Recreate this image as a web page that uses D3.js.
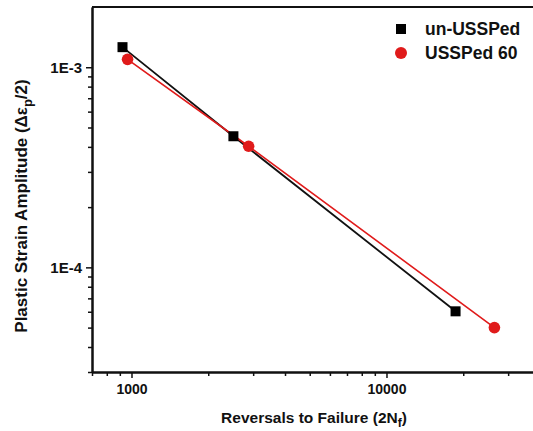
<!DOCTYPE html>
<html>
<head>
<meta charset="utf-8">
<script src="https://cdn.jsdelivr.net/npm/d3@7"></script>
<style>
  body { margin: 0; background: #fff; }
  text { font-family: "Liberation Sans", Arial, sans-serif; font-weight: bold; }
</style>
</head>
<body>
<div id="viz"></div>
<script>
// data
const seriesNames = ["un-USSPed", "USSPed 60"];
const unReversals = [922, 2510, 18660];
const unAmplitude = [1.26e-3, 4.52e-4, 6.03e-5];
const ussReversals = [965, 2880, 26500];
const ussAmplitude = [1.095e-3, 4.03e-4, 5.0e-5];

const xMajor = [1000, 10000];
const xMinor = [700, 800, 900, 2000, 3000, 4000, 5000, 6000, 7000, 8000, 9000, 20000, 30000];
const yMajor = [1e-4, 1e-3];
const yMinor = [3e-5, 4e-5, 5e-5, 6e-5, 7e-5, 8e-5, 9e-5, 2e-4, 3e-4, 4e-4, 5e-4, 6e-4, 7e-4, 8e-4, 9e-4];
const yLabels = {"0.0001": "1E-4", "0.001": "1E-3"};

const width = 533, height = 431;
const margin = {left: 92, top: 7, right: -7, bottom: 59};

const svg = d3.select("#viz").append("svg")
    .attr("width", width)
    .attr("height", height);

const xScale = d3.scaleLog()
    .domain([700, 40000])
    .range([margin.left, width - margin.right]);

const yScale = d3.scaleLog()
    .domain([3e-5, 2e-3])
    .range([height - margin.bottom, margin.top]);

const x0 = xScale.range()[0], x1 = xScale.range()[1];
const y0 = yScale.range()[0], y1 = yScale.range()[1];

// frame: top and right edges
svg.append("path")
    .attr("d", `M${x0},${y1}H${x1}V${y0}`)
    .attr("fill", "none")
    .attr("stroke", "#111")
    .attr("stroke-width", 2);

// x axis
const gx = svg.append("g").attr("transform", `translate(0,${y0})`);
gx.call(d3.axisBottom(xScale).tickValues(xMinor).tickFormat("").tickSize(4).tickSizeOuter(0));
gx.append("g").call(d3.axisBottom(xScale).tickValues(xMajor).tickFormat(d3.format("d")).tickSize(6).tickSizeOuter(0).tickPadding(6));
gx.selectAll("path.domain").attr("stroke", "#111").attr("stroke-width", 2);
gx.selectAll("line").attr("stroke", "#111").attr("stroke-width", 1.5);
gx.selectAll("text").style("font-size", "14px").style("fill", "#111");

// y axis
const gy = svg.append("g").attr("transform", `translate(${x0},0)`);
gy.call(d3.axisLeft(yScale).tickValues(yMinor).tickFormat("").tickSize(4).tickSizeOuter(0));
gy.append("g").call(d3.axisLeft(yScale).tickValues(yMajor).tickFormat(d => yLabels[String(d)]).tickSize(6).tickSizeOuter(0).tickPadding(4));
gy.selectAll("path.domain").attr("stroke", "#111").attr("stroke-width", 2);
gy.selectAll("line").attr("stroke", "#111").attr("stroke-width", 1.5);
gy.selectAll("text").style("font-size", "15px").style("fill", "#111").attr("dy", "0.35em");

// series
const unData = unReversals.map((r, i) => ({x: r, y: unAmplitude[i]}));
const ussData = ussReversals.map((r, i) => ({x: r, y: ussAmplitude[i]}));

const line = d3.line().x(d => xScale(d.x)).y(d => yScale(d.y));

svg.append("path")
    .datum(unData)
    .attr("d", line)
    .attr("fill", "none")
    .attr("stroke", "#111")
    .attr("stroke-width", 1.8);

svg.append("path")
    .datum(ussData)
    .attr("d", line)
    .attr("fill", "none")
    .attr("stroke", "#e01b1b")
    .attr("stroke-width", 1.6);

svg.selectAll(".sq")
    .data(unData)
    .join("rect")
        .attr("class", "sq")
        .attr("x", d => xScale(d.x) - 5)
        .attr("y", d => yScale(d.y) - 5)
        .attr("width", 10)
        .attr("height", 10)
        .attr("fill", "#000");

svg.selectAll(".dot")
    .data(ussData)
    .join("circle")
        .attr("class", "dot")
        .attr("cx", d => xScale(d.x))
        .attr("cy", d => yScale(d.y))
        .attr("r", 5.8)
        .attr("fill", "#e01b1b");

// legend
const legend = svg.append("g").attr("transform", "translate(401,29)");
legend.append("rect").attr("x", -5).attr("y", -5).attr("width", 10).attr("height", 10).attr("fill", "#000");
legend.append("circle").attr("cx", 0).attr("cy", 24).attr("r", 6).attr("fill", "#e01b1b");
legend.selectAll(".leg-text")
    .data(seriesNames)
    .join("text")
        .attr("class", "leg-text")
        .attr("x", 24)
        .attr("y", (d, i) => i * 24)
        .attr("dy", "0.35em")
        .style("font-size", "17.5px")
        .style("fill", "#111")
        .text(d => d);

// axis titles
const xt = svg.append("text")
    .attr("x", 314)
    .attr("y", 423)
    .attr("text-anchor", "middle")
    .style("font-size", "15.5px")
    .style("fill", "#111");
xt.append("tspan").text("Reversals to Failure (2N");
xt.append("tspan").attr("dy", 4).style("font-size", "12px").text("f");
xt.append("tspan").attr("dy", -4).text(")");

const yt = svg.append("text")
    .attr("transform", "translate(27,206) rotate(-90)")
    .attr("text-anchor", "middle")
    .style("font-size", "17px")
    .style("fill", "#111");
yt.append("tspan").text("Plastic Strain Amplitude (\u0394\u03b5");
yt.append("tspan").attr("dy", 5).style("font-size", "13px").text("p");
yt.append("tspan").attr("dy", -5).text("/2)");
</script>
</body>
</html>
